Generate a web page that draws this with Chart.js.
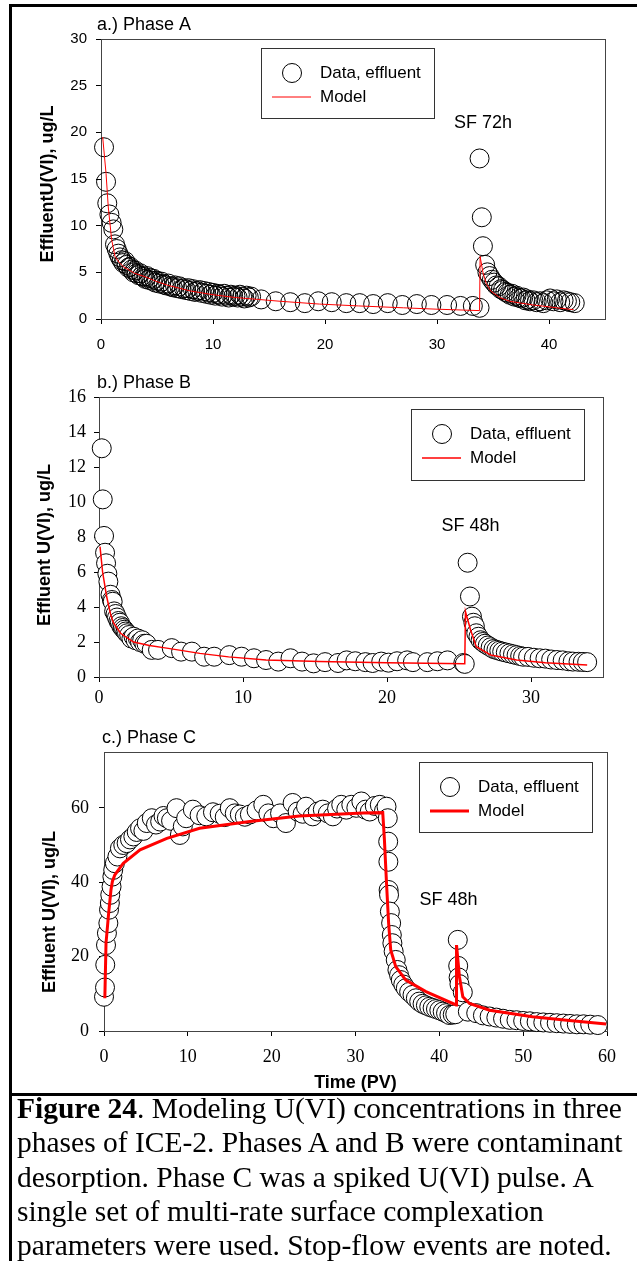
<!DOCTYPE html>
<html>
<head>
<meta charset="utf-8">
<script src="https://cdn.jsdelivr.net/npm/chart.js@4.4.1/dist/chart.umd.min.js"></script>
<style>
body { margin:0; background:#fff; width:637px; height:1261px; overflow:hidden; position:relative; }
canvas { position:absolute; left:0; }
#frame { position:absolute; left:9px; top:4px; width:700px; height:1400px; border-left:3px solid #000; border-top:3px solid #000; }
#sep { position:absolute; left:9px; top:1093px; width:640px; height:3px; background:#000; }
#caption { position:absolute; left:17px; top:1091px; font-family:"Liberation Serif","Times New Roman",serif; font-size:29.5px; line-height:34.3px; color:#000; white-space:nowrap; }
</style>
</head>
<body>
<div id="frame"></div>
<canvas id="chartA" width="637" height="360" style="top:0px"></canvas>
<canvas id="chartB" width="637" height="350" style="top:360px"></canvas>
<canvas id="chartC" width="637" height="385" style="top:710px"></canvas>
<div id="sep"></div>
<div id="caption"><b>Figure 24</b>. Modeling U(VI) concentrations in three<br>phases of ICE-2. Phases A and B were contaminant<br>desorption. Phase C was a spiked U(VI) pulse. A<br>single set of multi-rate surface complexation<br>parameters were used. Stop-flow events are noted.</div>
<script>
// ---- Phase A ----
var aX = [0.27,0.45,0.56,0.75,0.95,1.1,
  1.25,1.4,1.55,1.7,1.85,2.0,2.15,2.3,2.45,2.6,2.75,2.9,3.05,3.2,3.35,3.5,3.65,3.8,3.95,4.1,4.25,4.4,4.55,4.7,4.85,5.0,
  5.2,5.4,5.6,5.8,6.0,6.2,6.4,6.6,6.8,7.0,7.2,7.4,7.6,7.8,8.0,8.2,8.4,8.6,8.8,9.0,9.2,9.4,9.6,9.8,10.0,10.2,10.4,10.6,10.8,11.0,11.2,11.4,11.6,11.8,12.0,12.2,12.4,12.6,12.8,13.0,13.2,13.4,
  14.3,15.6,16.9,18.2,19.4,20.6,21.9,23.1,24.3,25.6,26.9,28.2,29.5,30.9,32.1,33.2,33.8,
  33.8,34.0,34.1,34.3,34.5,34.7,34.9,35.1,35.3,35.5,35.7,35.9,36.1,36.3,36.5,36.7,36.9,37.1,37.3,37.5,37.7,37.9,38.1,38.3,38.6,38.9,39.2,39.5,39.8,40.1,40.4,40.7,41.0,41.3,41.6,41.9,42.3];
var aY = [18.4,14.7,12.4,11.2,10.3,9.6,
  8.0,7.5,7.0,6.6,6.3,6.0,6.2,5.8,5.5,5.6,5.3,5.0,5.2,4.9,4.7,4.9,4.6,4.5,4.3,4.6,4.2,4.4,4.1,4.3,3.9,4.1,
  3.8,4.0,3.7,3.6,3.8,3.5,3.4,3.6,3.3,3.5,3.2,3.3,3.1,3.3,3.0,3.2,2.9,3.0,3.1,2.8,3.0,2.7,2.9,2.6,2.8,2.5,2.7,2.6,2.4,2.7,2.5,2.3,2.6,2.4,2.5,2.3,2.6,2.4,2.2,2.5,2.3,2.4,
  2.1,1.9,1.8,1.7,1.9,1.8,1.7,1.7,1.6,1.7,1.5,1.6,1.5,1.5,1.4,1.4,1.2,
  17.2,10.9,7.8,5.8,5.0,4.6,4.2,3.9,3.6,3.5,3.2,3.1,2.9,2.8,2.6,2.7,2.4,2.5,2.3,2.2,2.3,2.0,2.1,1.9,2.0,1.8,1.9,1.7,2.0,2.2,1.9,2.1,1.8,2.0,1.9,1.8,1.7];
var aModelX = [0.15,0.45,0.65,0.95,1.25,1.6,2.0,3,4,5,6,7,8,9,10,12,14,16,19.5,23,27,30,33.8,33.85,34.1,34.4,34.8,35.6,36.5,37.5,38.6,40,41,42.2];
var aModelY = [19.5,15.6,12,8.5,6.7,6.1,5.6,4.9,4.5,4.0,3.6,3.3,3.0,2.8,2.6,2.3,2.1,1.9,1.6,1.4,1.2,1.05,0.9,6.7,5.0,3.8,3.0,2.3,1.9,1.7,1.5,1.3,1.15,1.0];
var aXTicks = [0, 10, 20, 30, 40];
var aYTicks = [0, 5, 10, 15, 20, 25, 30];

// ---- Phase B ----
var bX = [0.19,0.26,0.35,0.42,0.49,0.58,0.65,0.8,0.9,0.95,1.05,1.15,1.25,1.35,1.45,1.55,1.65,1.75,1.85,1.95,2.1,2.25,2.4,2.55,2.7,2.85,3.0,3.15,3.3,
  3.66,4.1,5.05,5.7,6.45,7.3,8.0,9.05,9.9,10.76,11.6,12.45,13.3,14.1,14.9,15.7,16.6,17.2,17.8,18.5,19.0,19.6,20.1,20.7,21.4,21.8,22.8,23.5,24.2,25.3,25.4,
  25.6,25.76,25.9,26.0,26.1,26.2,26.35,26.5,26.65,26.8,27.0,27.2,27.4,27.6,27.8,28.0,28.25,28.5,28.75,29.0,29.25,29.45,29.8,30.2,30.6,31.0,31.4,31.8,32.2,32.6,32.9,33.3,33.6,33.9];
var bY = [13.07,10.15,8.06,7.1,6.5,5.9,5.45,4.7,4.4,4.3,3.75,3.6,3.4,3.2,3.1,2.9,2.8,2.7,2.6,2.5,2.4,2.2,2.3,2.1,2.2,2.0,2.1,1.9,1.9,
  1.55,1.55,1.65,1.45,1.45,1.16,1.16,1.25,1.16,1.07,0.97,0.88,1.07,0.88,0.78,0.85,0.8,0.95,0.9,0.85,0.8,0.88,0.82,0.9,0.95,0.85,0.85,0.9,0.95,0.8,0.75,
  6.53,4.6,3.45,3.1,2.9,2.5,2.3,2.1,2.0,1.9,1.8,1.7,1.6,1.55,1.5,1.45,1.4,1.35,1.3,1.25,1.2,1.16,1.15,1.1,1.07,1.05,1.0,0.97,0.95,0.9,0.88,0.87,0.86,0.85];
var bModelX = [0.07,0.25,0.53,0.8,1.0,1.5,2.4,3.5,4.7,7,9,11.6,15.3,20,25.4,25.45,25.8,26.2,27.2,29,31,33.9];
var bModelY = [7.45,6.0,4.6,3.6,3.1,2.5,2.0,1.8,1.65,1.35,1.15,0.97,0.88,0.82,0.76,3.73,2.7,1.73,1.26,0.97,0.82,0.69];
var bXTicks = [0, 10, 20, 30];
var bYTicks = [0, 2, 4, 6, 8, 10, 12, 14, 16];

// ---- Phase C ----
var cX = [0.0,0.12,0.15,0.24,0.35,0.52,0.6,0.7,0.75,0.9,1.0,1.1,1.3,1.6,1.9,2.3,2.7,3.1,3.5,3.9,
  4.3,4.7,5.1,5.7,6.2,6.7,7.1,7.5,8.0,8.65,9.05,9.4,9.8,10.6,11.4,12.2,13.0,13.8,14.4,15.0,
  15.6,16.2,16.8,17.4,18.2,19.0,19.6,20.2,21.0,21.7,22.5,23.1,23.7,24.1,24.9,25.5,26.1,26.7,27.3,27.8,
  28.3,28.9,29.5,30.1,30.7,31.2,31.7,32.3,32.9,33.4,33.7,33.85,33.9,33.92,33.95,34.0,34.1,34.25,34.33,34.4,
  34.55,34.8,35.0,35.2,35.4,35.7,36.0,36.4,36.8,37.2,37.6,38.0,38.4,38.8,39.2,39.6,40.0,40.4,40.8,41.2,
  41.6,41.9,42.2,42.25,42.3,42.4,42.8,43.4,44.4,45.2,46.0,46.8,47.6,48.4,49.2,50.0,50.8,51.6,52.4,53.2,
  54.0,54.8,55.6,56.4,57.2,58.0,58.9];
var cY = [9.2,11.7,17.8,23.1,26.3,29,32.6,34.4,36.6,38.8,41.5,43.3,45.1,46.9,49.1,50.0,50.5,51.5,52.3,53.5,
  54.5,53.8,55.9,57.2,55.5,56.3,57.8,57.2,56.5,59.9,52.7,55.0,57.2,59.5,58.0,57.7,58.8,58.4,57.5,59.9,
  58.5,58.2,57.6,58.2,59.3,60.8,58.5,57.2,58.5,55.9,61.3,59.0,58.4,60.3,57.7,59.0,59.5,58.5,57.7,59.8,
  60.8,59.5,60.8,60.0,61.7,59.5,59.0,60.5,60.8,59.2,60.3,57.2,50.9,45.5,37.9,36.6,32.1,29,25.8,23.6,
  21.4,19.1,16.4,15.0,13.7,12.5,11.5,10.5,9.7,8.8,7.9,7.3,6.9,6.5,6.2,5.9,5.6,5.2,4.8,4.3,
  4.4,4.5,24.5,17.5,14.4,12.6,10.4,5.2,4.8,4.2,3.9,3.6,3.3,3.0,2.9,2.7,2.6,2.4,2.3,2.2,
  2.1,2.0,1.9,1.8,1.8,1.7,1.6];
var cModelX = [0.1,0.24,0.52,0.83,1.0,1.3,2.3,4.3,7.5,11.4,17.4,23.3,30.9,33.25,33.45,33.7,33.95,34.2,34.8,36,38.4,42.0,42.05,42.4,42.8,43.6,46,51.1,55.5,59.9];
var cModelY = [8.8,23.6,30.8,37.9,40.2,42,45.1,48.7,51.8,54.5,56.3,57.8,58.6,58.7,51.4,39.7,29,21.8,17.3,13.7,10.6,7.0,23.1,14.6,9.2,7.4,5.6,3.85,2.8,1.9];
var cXTicks = [0, 10, 20, 30, 40, 50, 60];
var cYTicks = [0, 20, 40, 60];

var SANS = '"Liberation Sans", Arial, sans-serif';
var SERIF = '"Liberation Serif", "Times New Roman", serif';

function pts(xs, ys) {
  return xs.map(function (x, i) { return { x: x, y: ys[i] }; });
}

// frame, titles, legend box and the SF notes
var decor = {
  id: 'decor',
  beforeDatasetsDraw: function (chart) {
    var ctx = chart.ctx, ca = chart.chartArea;
    ctx.save();
    ctx.strokeStyle = '#444';
    ctx.lineWidth = 1;
    ctx.strokeRect(Math.round(ca.left) + 0.5, Math.round(ca.top) + 0.5, Math.round(ca.right - ca.left), Math.round(ca.bottom - ca.top));
    ctx.restore();
  },
  afterDraw: function (chart, args, o) {
    var ctx = chart.ctx, ca = chart.chartArea;
    var xs = chart.scales.x, ys = chart.scales.y;
    ctx.save();
    ctx.fillStyle = '#000';
    ctx.textBaseline = 'middle';

    ctx.font = '18px ' + SANS;
    ctx.textAlign = 'left';
    ctx.fillText(o.title, ca.left + o.titleDx, ca.top - 14);

    ctx.textAlign = 'center';
    ctx.fillText(o.sf.text, xs.getPixelForValue(o.sf.x), ys.getPixelForValue(o.sf.y));

    ctx.save();
    ctx.font = 'bold 18px ' + SANS;
    ctx.translate(o.yTitle.x, o.yTitle.y);
    ctx.rotate(-Math.PI / 2);
    ctx.fillText(o.yTitle.text, 0, 0);
    ctx.restore();

    if (o.xTitle) {
      ctx.font = 'bold 18px ' + SANS;
      ctx.fillText(o.xTitle.text, (ca.left + ca.right) / 2, o.xTitle.y);
    }

    // legend
    var L = o.legend, d0 = chart.data.datasets[0], d1 = chart.data.datasets[1];
    ctx.fillStyle = '#fff';
    ctx.fillRect(L.left, L.top, L.w, L.h);
    ctx.strokeStyle = '#333';
    ctx.lineWidth = 1;
    ctx.strokeRect(L.left + 0.5, L.top + 0.5, L.w, L.h);
    ctx.beginPath();
    ctx.arc(L.left + 31, L.top + 25, d0.pointRadius, 0, Math.PI * 2);
    ctx.strokeStyle = d0.borderColor;
    ctx.stroke();
    ctx.beginPath();
    ctx.moveTo(L.left + 11, L.top + 49);
    ctx.lineTo(L.left + 50, L.top + 49);
    ctx.strokeStyle = d1.borderColor;
    ctx.lineWidth = d1.borderWidth;
    ctx.stroke();
    ctx.fillStyle = '#000';
    ctx.font = '17px ' + SANS;
    ctx.textAlign = 'left';
    ctx.fillText(d0.label, L.left + 59, L.top + 25);
    ctx.fillText(d1.label, L.left + 59, L.top + 49);
    ctx.restore();
  }
};

function makePanel(id, p) {
  var tickFont = { family: p.tickFamily, size: p.tickSize };
  return new Chart(document.getElementById(id), {
    type: 'scatter',
    data: {
      datasets: [{
        label: 'Data, effluent',
        data: pts(p.x, p.y),
        pointRadius: 9.5,
        pointBorderWidth: 1,
        borderColor: '#000',
        backgroundColor: p.fill,
        pointBackgroundColor: p.fill,
        clip: false,
        order: 2
      }, {
        label: 'Model',
        data: pts(p.mx, p.my),
        showLine: true,
        pointRadius: 0,
        borderColor: '#ff0000',
        borderWidth: p.lineWidth,
        tension: 0,
        clip: false,
        order: 1
      }]
    },
    options: {
      responsive: false,
      animation: false,
      layout: { padding: { left: 0, top: p.top, right: 637 - p.right, bottom: 0 } },
      plugins: {
        legend: { display: false },
        tooltip: { enabled: false },
        decor: p.decor
      },
      scales: {
        x: {
          type: 'linear', min: p.xMin, max: p.xMax,
          afterFit: function (s) { s.height = p.xAxisH; },
          afterBuildTicks: function (s) { s.ticks = p.xTicks.map(function (v) { return { value: v }; }); },
          ticks: { color: '#000', padding: p.xPad, font: tickFont, autoSkip: false, maxRotation: 0 },
          grid: { drawOnChartArea: false, tickLength: 5, color: '#000' },
          border: { color: '#000' }
        },
        y: {
          type: 'linear', min: p.yMin, max: p.yMax,
          afterFit: function (s) { s.width = p.left; },
          afterBuildTicks: function (s) { s.ticks = p.yTicks.map(function (v) { return { value: v }; }); },
          ticks: { color: '#000', padding: p.yPad, font: tickFont, autoSkip: false },
          grid: { drawOnChartArea: false, tickLength: 5, color: '#000' },
          border: { color: '#000' }
        }
      }
    },
    plugins: [decor]
  });
}

makePanel('chartA', {
  x: aX, y: aY, mx: aModelX, my: aModelY, xTicks: aXTicks, yTicks: aYTicks,
  xMin: 0, xMax: 45, yMin: 0, yMax: 30,
  left: 101, right: 605, top: 39, xAxisH: 41,
  tickFamily: SANS, tickSize: 15, xPad: 12, yPad: 9,
  fill: 'rgba(0,0,0,0)', lineWidth: 1,
  decor: {
    title: 'a.) Phase A', titleDx: -4,
    sf: { text: 'SF 72h', x: 34.1, y: 21 },
    yTitle: { text: 'EffluentU(VI), ug/L', x: 48, y: 184 },
    legend: { left: 261, top: 48, w: 173, h: 70 }
  }
});

makePanel('chartB', {
  x: bX, y: bY, mx: bModelX, my: bModelY, xTicks: bXTicks, yTicks: bYTicks,
  xMin: 0, xMax: 35, yMin: 0, yMax: 16,
  left: 99, right: 603, top: 37, xAxisH: 33,
  tickFamily: SERIF, tickSize: 18, xPad: 5, yPad: 8,
  fill: '#fff', lineWidth: 1.5,
  decor: {
    title: 'b.) Phase B', titleDx: -2,
    sf: { text: 'SF 48h', x: 25.8, y: 8.6 },
    yTitle: { text: 'Effluent U(VI), ug/L', x: 45, y: 185 },
    legend: { left: 411, top: 49, w: 173, h: 71 }
  }
});

makePanel('chartC', {
  x: cX, y: cY, mx: cModelX, my: cModelY, xTicks: cXTicks, yTicks: cYTicks,
  xMin: 0, xMax: 60, yMin: 0, yMax: 75,
  left: 104, right: 607, top: 42, xAxisH: 64,
  tickFamily: SERIF, tickSize: 18, xPad: 10, yPad: 10,
  fill: '#fff', lineWidth: 3,
  decor: {
    title: 'c.) Phase C', titleDx: -2,
    sf: { text: 'SF 48h', x: 41.1, y: 35.2 },
    yTitle: { text: 'Effluent U(VI), ug/L', x: 50, y: 202 },
    xTitle: { text: 'Time (PV)', y: 373 },
    legend: { left: 419, top: 52, w: 173, h: 70 }
  }
});
</script>
</body>
</html>
